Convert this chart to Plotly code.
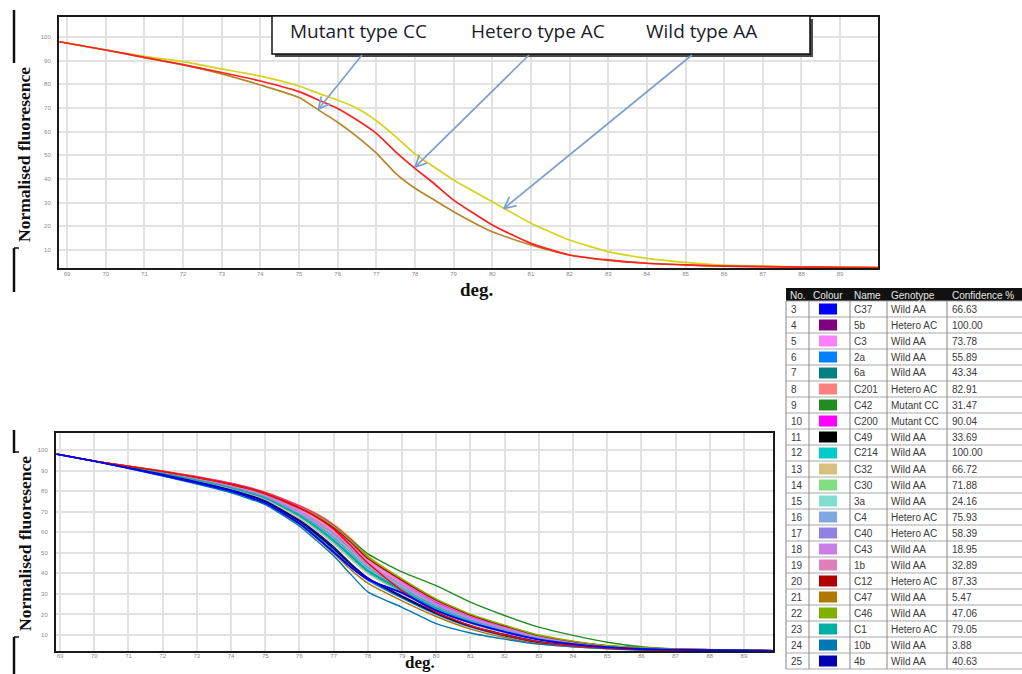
import math
import plotly.graph_objects as go

W, H = 1022, 674

# ---------------- data: top panel (representative curves) ----------------
top_temp = [68.8, 70, 71, 72, 73, 74, 75, 75.5, 76, 76.5, 77, 77.5, 78, 78.5, 79,
            80, 81, 82, 83, 84, 85, 86, 87, 88, 89, 90]
wild_aa = [98.0, 94.5, 91.8, 89.6, 86.5, 83.5, 79.3, 76.2, 73.4, 69.9, 64.6, 57.9, 50.6,
           45.0, 39.6, 30.4, 21.3, 14.2, 9.3, 6.5, 4.8, 3.6, 3.2, 2.9, 2.7, 2.6]
hetero_ac = [98.0, 94.5, 91.4, 88.3, 85.0, 81.4, 76.9, 73.4, 69.8, 64.9, 59.3, 51.5, 44.5,
             38.0, 31.1, 20.6, 12.8, 7.9, 5.8, 4.4, 3.7, 3.2, 3.0, 2.8, 2.7, 2.6]
mutant_cc = [98.0, 94.5, 91.3, 88.2, 84.4, 79.7, 74.4, 69.2, 64.0, 57.9, 50.9, 42.4, 36.1,
             31.1, 26.2, 17.7, 12.1, 7.9, 5.6, 4.4, 3.7, 3.2, 3.0, 2.8, 2.7, 2.6]
legend_labels = ["Mutant type CC", "Hetero type AC", "Wild type AA"]
arrow_tip_temp = [75.5, 78.0, 80.3]
arrow_tip_value = [69.5, 45.0, 27.5]

# ---------------- data: bottom panel (all samples) ----------------
bottom_temp = [68.9, 70, 72, 74, 75, 76, 76.5, 77, 77.5, 78, 79, 80, 81, 82, 83, 84, 85, 86, 87, 89.85]
curve_s1 = [98.0, 94.6, 89.6, 83.5, 79.0, 72.0, 67.5, 61.5, 53.5, 45.0, 31.5, 21.0, 14.5, 10.0, 6.6, 4.8, 3.6, 2.9, 2.6, 2.3]
curve_s2 = [98.0, 94.6, 89.8, 83.9, 79.6, 73.0, 69.2, 64.0, 57.2, 48.5, 37.0, 27.3, 20.0, 14.7, 10.0, 7.0, 4.9, 3.9, 3.2, 2.4]
curve_C37 = [98.0, 94.6, 87.7, 80.0, 74.2, 64.2, 57.5, 50.3, 43.0, 37.0, 30.5, 22.0, 16.0, 11.5, 7.8, 5.6, 4.1, 3.2, 2.8, 2.3]
curve_5b = [98.0, 94.6, 89.0, 82.3, 77.6, 69.8, 65.0, 59.0, 51.8, 44.2, 34.1, 25.0, 18.0, 13.0, 8.7, 6.2, 4.4, 3.4, 2.9, 2.4]
curve_C3 = [98.0, 94.6, 89.2, 82.8, 78.1, 70.8, 66.2, 60.5, 53.5, 45.8, 35.4, 26.0, 18.9, 13.8, 9.2, 6.6, 4.6, 3.6, 3.0, 2.4]
curve_2a = [98.0, 94.6, 87.8, 80.2, 74.7, 65.0, 58.5, 51.3, 43.5, 36.7, 27.9, 20.0, 13.8, 9.5, 6.2, 4.6, 3.5, 2.8, 2.6, 2.3]
curve_6a = [98.0, 94.6, 88.6, 81.5, 76.4, 67.9, 62.3, 56.0, 48.5, 41.2, 31.6, 23.0, 16.3, 11.6, 7.7, 5.6, 4.1, 3.2, 2.8, 2.3]
curve_C201 = [98.0, 94.6, 89.1, 82.6, 77.9, 70.3, 65.6, 59.8, 52.7, 45.0, 34.8, 25.5, 18.5, 13.4, 9.0, 6.4, 4.5, 3.5, 3.0, 2.4]
curve_C42 = [98.0, 94.6, 89.4, 83.0, 78.3, 71.5, 67.6, 62.8, 56.5, 49.5, 40.7, 34.0, 26.0, 19.5, 13.8, 9.8, 6.5, 4.3, 3.2, 2.4]
curve_C200 = [98.0, 94.6, 89.8, 83.8, 79.4, 72.8, 68.8, 63.5, 56.5, 48.0, 36.0, 26.0, 19.0, 13.8, 9.3, 6.6, 4.7, 3.7, 3.1, 2.4]
curve_C49 = [98.0, 94.6, 88.0, 80.4, 75.0, 65.4, 59.1, 52.1, 44.3, 37.5, 28.5, 20.5, 14.2, 9.9, 6.5, 4.8, 3.6, 2.9, 2.6, 2.3]
curve_C214 = [98.0, 94.6, 88.4, 81.3, 76.1, 67.4, 61.7, 55.2, 47.7, 40.5, 31.0, 22.5, 15.9, 11.3, 7.5, 5.4, 4.0, 3.2, 2.8, 2.3]
curve_C32 = [98.0, 94.6, 88.3, 81.0, 75.8, 66.9, 61.0, 54.4, 46.9, 39.8, 30.4, 22.0, 15.5, 11.0, 7.2, 5.3, 3.9, 3.1, 2.7, 2.3]
curve_C30 = [98.0, 94.6, 88.9, 82.1, 77.3, 69.3, 64.3, 58.2, 51.0, 43.5, 33.5, 24.5, 17.6, 12.7, 8.5, 6.1, 4.3, 3.4, 2.9, 2.4]
curve_3a = [98.0, 94.6, 88.7, 81.7, 76.7, 68.4, 63.0, 56.7, 49.4, 42.0, 32.3, 23.5, 16.8, 12.0, 8.0, 5.8, 4.2, 3.3, 2.9, 2.4]
curve_C4 = [98.0, 94.6, 89.0, 82.4, 77.5, 69.6, 64.8, 58.8, 51.5, 44.0, 34.0, 24.8, 17.9, 12.9, 8.6, 6.2, 4.4, 3.4, 2.9, 2.4]
curve_C40 = [98.0, 94.6, 88.8, 81.9, 77.0, 68.8, 63.7, 57.5, 50.2, 42.8, 32.9, 24.0, 17.2, 12.4, 8.3, 5.9, 4.2, 3.4, 2.9, 2.4]
curve_C43 = [98.0, 94.6, 89.1, 82.5, 77.8, 70.1, 65.3, 59.5, 52.3, 44.6, 34.5, 25.3, 18.4, 13.4, 9.2, 6.6, 4.7, 3.7, 3.1, 2.5]
curve_1b = [98.0, 94.6, 89.3, 83.0, 78.4, 71.3, 66.9, 61.3, 54.4, 46.5, 36.0, 26.5, 19.3, 14.1, 9.5, 6.7, 4.7, 3.7, 3.1, 2.4]
curve_C12 = [98.0, 94.6, 89.5, 83.2, 78.7, 71.7, 67.5, 62.1, 55.2, 47.2, 36.6, 27.0, 19.7, 14.4, 9.7, 6.8, 4.8, 3.7, 3.1, 2.4]
curve_C47 = [98.0, 94.6, 87.6, 79.7, 74.1, 64.0, 57.1, 49.7, 41.8, 35.2, 26.6, 19.0, 12.9, 8.8, 5.7, 4.3, 3.4, 2.7, 2.5, 2.3]
curve_C46 = [98.0, 94.6, 89.6, 83.5, 79.0, 72.2, 68.2, 62.9, 56.0, 48.0, 37.3, 27.5, 20.2, 14.8, 10.0, 7.0, 4.8, 3.8, 3.1, 2.4]
curve_C1 = [98.0, 94.6, 88.6, 81.6, 76.6, 68.2, 62.7, 56.3, 49.0, 41.6, 32.0, 23.2, 16.6, 11.8, 7.9, 5.7, 4.1, 3.3, 2.8, 2.3]
curve_10b = [98.0, 94.6, 87.3, 79.2, 73.4, 63.0, 56.0, 48.5, 39.5, 31.0, 23.5, 15.5, 11.0, 8.0, 5.6, 4.3, 3.3, 2.7, 2.5, 2.3]
curve_4b = [98.0, 94.6, 88.1, 80.6, 75.3, 65.9, 59.8, 52.9, 44.8, 37.8, 29.0, 21.0, 14.6, 10.3, 6.8, 5.0, 3.7, 3.0, 2.7, 2.3]

# ---------------- data: sample table ----------------
sample_no = [3, 4, 5, 6, 7, 8, 9, 10, 11, 12, 13, 14, 15, 16, 17, 18, 19, 20, 21, 22, 23, 24, 25]
sample_name = ["C37", "5b", "C3", "2a", "6a", "C201", "C42", "C200", "C49", "C214", "C32", "C30",
               "3a", "C4", "C40", "C43", "1b", "C12", "C47", "C46", "C1", "10b", "4b"]
sample_genotype = ["Wild AA", "Hetero AC", "Wild AA", "Wild AA", "Wild AA", "Hetero AC", "Mutant CC",
                   "Mutant CC", "Wild AA", "Wild AA", "Wild AA", "Wild AA", "Wild AA", "Hetero AC",
                   "Hetero AC", "Wild AA", "Wild AA", "Hetero AC", "Wild AA", "Wild AA", "Hetero AC",
                   "Wild AA", "Wild AA"]
sample_confidence = ["66.63", "100.00", "73.78", "55.89", "43.34", "82.91", "31.47", "90.04", "33.69",
                     "100.00", "66.72", "71.88", "24.16", "75.93", "58.39", "18.95", "32.89", "87.33",
                     "5.47", "47.06", "79.05", "3.88", "40.63"]
sample_colour = ["#0000ff", "#800080", "#ff80ff", "#0080ff", "#008080", "#ff8080", "#228b22",
                 "#ff00ff", "#000000", "#00cccc", "#d8c080", "#80e080", "#80e0d0", "#80a8e0",
                 "#9080e0", "#c880e8", "#e080b8", "#b00000", "#b07800", "#80b000", "#00b0a0",
                 "#0078b8", "#0000b0"]
table_header = ["No.", "Colour", "Name", "Genotype", "Confidence %"]

sample_curves = [curve_C37, curve_5b, curve_C3, curve_2a, curve_6a, curve_C201, curve_C42,
                 curve_C200, curve_C49, curve_C214, curve_C32, curve_C30, curve_3a, curve_C4,
                 curve_C40, curve_C43, curve_1b, curve_C12, curve_C47, curve_C46, curve_C1,
                 curve_10b, curve_4b]

x_ticks = list(range(69, 90))
y_ticks = list(range(10, 101, 10))

# ---------------- geometry helpers ----------------
def pxx(x):
    return x / W


def pyy(y):
    return 1 - y / H


TOP_XR, TOP_YR = [68.79, 89.98], [2.4, 108.45]
TOP_BOX = (59, 878, 17, 268)  # left, right, top, bottom (pixels)
BOT_XR, BOT_YR = [68.88, 89.85], [2.22, 108.27]
BOT_BOX = (56, 773, 433, 651)


def top_to_pixel(x, y):
    l, r, t, b = TOP_BOX
    return (l + (x - TOP_XR[0]) / (TOP_XR[1] - TOP_XR[0]) * (r - l),
            b - (y - TOP_YR[0]) / (TOP_YR[1] - TOP_YR[0]) * (b - t))


fig = go.Figure()

top_colors = ["#b8862a", "#ff2020", "#d4d41a"]
for vals, col in [(wild_aa, top_colors[2]), (mutant_cc, top_colors[0]), (hetero_ac, top_colors[1])]:
    fig.add_trace(go.Scatter(x=top_temp, y=vals, mode="lines", xaxis="x", yaxis="y",
                             line=dict(color=col, width=1.7, shape="spline", smoothing=0.5),
                             hoverinfo="skip"))

# bottom: unlabeled yellow first, then samples, then red
fig.add_trace(go.Scatter(x=bottom_temp, y=curve_s2, mode="lines", xaxis="x2", yaxis="y2",
                         line=dict(color="#e0e000", width=1.4, shape="spline", smoothing=0.5)))
for vals, col in zip(sample_curves, sample_colour):
    fig.add_trace(go.Scatter(x=bottom_temp, y=vals, mode="lines", xaxis="x2", yaxis="y2",
                             line=dict(color=col, width=1.4, shape="spline", smoothing=0.5)))
fig.add_trace(go.Scatter(x=bottom_temp, y=curve_s1, mode="lines", xaxis="x2", yaxis="y2",
                         line=dict(color="#ff0000", width=1.4, shape="spline", smoothing=0.5)))
fig.add_trace(go.Scatter(x=bottom_temp, y=curve_C37, mode="lines", xaxis="x2", yaxis="y2",
                         line=dict(color="#0000ff", width=1.8, shape="spline", smoothing=0.5)))

tickfont = dict(size=6, color="#8a8a8a", family="Liberation Sans")


def ax(rng, dom, anchor, ticks, standoff):
    return dict(range=rng, domain=dom, anchor=anchor, tickvals=ticks, ticktext=[str(t) for t in ticks],
                showgrid=True, gridcolor="#e2e2e2", gridwidth=1.5, showline=True, linecolor="#1a1a1a",
                linewidth=2, mirror=True, zeroline=False, ticks="", tickfont=tickfont,
                ticklabelstandoff=standoff, fixedrange=True)


fig.update_layout(
    width=W, height=H, margin=dict(l=0, r=0, t=0, b=0), showlegend=False,
    paper_bgcolor="white", plot_bgcolor="white",
    xaxis=ax(TOP_XR, [pxx(59), pxx(878)], "y", x_ticks, -1),
    yaxis=ax(TOP_YR, [pyy(268), pyy(17)], "x", y_ticks, 5),
    xaxis2=ax(BOT_XR, [pxx(56), pxx(773)], "y2", x_ticks, -2),
    yaxis2=ax(BOT_YR, [pyy(651), pyy(433)], "x2", y_ticks, 5),
)

shapes = []
annotations = []


def line_px(x0, y0, x1, y1, color="#000", width=1.0):
    shapes.append(dict(type="line", xref="paper", yref="paper", x0=pxx(x0), y0=pyy(y0),
                       x1=pxx(x1), y1=pyy(y1), line=dict(color=color, width=width), layer="above"))


def rect_px(x0, y0, x1, y1, fill, line_color=None, width=0):
    shapes.append(dict(type="rect", xref="paper", yref="paper", x0=pxx(x0), y0=pyy(y1),
                       x1=pxx(x1), y1=pyy(y0), fillcolor=fill,
                       line=dict(color=line_color or fill, width=width), layer="above"))


def text_px(x, y, s, size, color="#333", family="Liberation Sans", xanchor="left", angle=0,
            yanchor="middle"):
    annotations.append(dict(x=pxx(x), y=pyy(y), xref="paper", yref="paper", text=s, showarrow=False,
                            xanchor=xanchor, yanchor=yanchor, textangle=angle,
                            font=dict(size=size, color=color, family=family)))


# legend box with shadow
rect_px(275, 19, 813, 57, "#4a4a4a")
rect_px(272, 16, 810, 54, "white", "#111", 1.5)
for lbl, xx in zip(legend_labels, [288, 469, 644]):
    text_px(xx, 31, lbl, 19, color="#1c1c2c", family="Open Sans")

# arrows (open chevron heads)
tails = [(362, 55), (529, 55), (692, 55)]
arrow_col = "#7c9fcf"
for (tx, ty), xt, yt in zip(tails, arrow_tip_temp, arrow_tip_value):
    hx, hy = top_to_pixel(xt, yt)
    line_px(tx, ty, hx, hy, arrow_col, 1.7)
    ang = math.atan2(ty - hy, tx - hx)
    for d in (0.45, -0.45):
        line_px(hx, hy, hx + 13 * math.cos(ang + d), hy + 13 * math.sin(ang + d), arrow_col, 1.7)

# axis titles
serif = "Liberation Serif"
text_px(24, 155, "<b>Normalised fluoresence</b>", 17.5, "#111", serif, "center", -90)
text_px(25, 544, "<b>Normalised fluoresence</b>", 17.5, "#111", serif, "center", -90)
text_px(476, 289, "<b>deg.</b>", 19, "#111", serif, "center")
text_px(420, 674, "<b>deg.</b>", 17, "#111", serif, "center", yanchor="bottom")

# bracket marks beside titles
line_px(14, 10, 14, 63, "#111", 2.5)
line_px(14, 248, 14, 292, "#111", 2.5)
line_px(14, 248, 19, 248, "#111", 1.5)
line_px(14, 430, 14, 453, "#111", 2.5)
line_px(14, 452, 19, 452, "#111", 1.5)
line_px(14, 637, 14, 676, "#111", 2.5)
line_px(14, 637, 19, 637, "#111", 1.5)

# table
col_x = [786, 809, 850, 887, 947]
head_top, row_top, row_h = 288, 301, 16
rect_px(786, head_top, 1030, row_top, "#111111")
for s, xx in zip(table_header, [788, 811, 852, 889, 950]):
    text_px(xx, (head_top + row_top) / 2 + 0.5, s, 10, "#e8e8e8")
n = len(sample_no)
table_bottom = row_top + n * row_h
for i in range(n + 1):
    line_px(786, row_top + i * row_h, 1030, row_top + i * row_h, "#a8a8a8", 1)
for xx in col_x:
    line_px(xx, row_top, xx, table_bottom, "#999999", 1.2)
for i in range(n):
    cy = row_top + i * row_h + row_h / 2
    text_px(789, cy, str(sample_no[i]), 10, "#3a3a3a")
    rect_px(819, cy - 5.5, 837, cy + 5.5, sample_colour[i])
    text_px(852, cy, sample_name[i], 10, "#3a3a3a")
    text_px(889, cy, sample_genotype[i], 10, "#3a3a3a")
    text_px(950, cy, sample_confidence[i], 10, "#3a3a3a")

fig.update_layout(shapes=shapes, annotations=annotations)

fig.write_html("out.html", config={"displayModeBar": False},
               post_script="document.body.style.margin='0px';document.body.style.overflow='hidden';")
